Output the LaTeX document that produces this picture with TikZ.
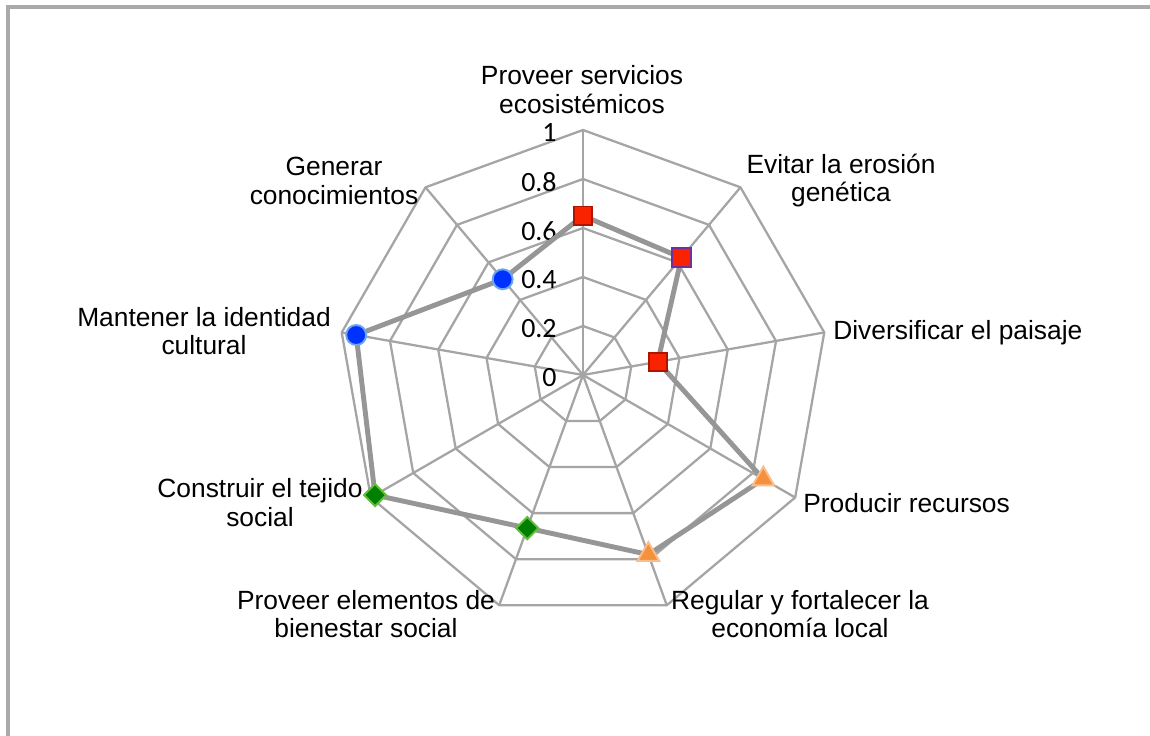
\documentclass[tikz,border=0pt]{standalone}
\usepackage{fontspec}
\setmainfont{Liberation Sans}
\newfontfamily\tickfont{Carlito}
\usepackage{xcolor}
\usepackage{tikz}
\usetikzlibrary{shapes.geometric}
\definecolor{gridgray}{RGB}{165,165,165}
\definecolor{framegray}{RGB}{170,170,170}
\definecolor{datagray}{RGB}{150,150,150}
\definecolor{markred}{RGB}{250,35,0}
\definecolor{darkred}{RGB}{175,20,0}
\definecolor{markpurple}{RGB}{112,48,160}
\definecolor{markorange}{RGB}{245,145,60}
\definecolor{lightorange}{RGB}{250,190,140}
\definecolor{markgreen}{RGB}{0,128,0}
\definecolor{lightgreen}{RGB}{100,190,60}
\definecolor{markblue}{RGB}{0,50,255}
\definecolor{lightblue}{RGB}{110,165,240}
\tikzset{
    grid_line/.style = {draw=gridgray, line width=1.3pt, line join=round},
    data_line/.style = {draw=datagray, line width=2.8pt, line join=round},
    frame_line/.style = {draw=framegray, line width=2pt},
    tick_lbl/.style = {anchor=east, inner sep=0pt, font=\tickfont\fontsize{15.9}{18}\selectfont},
    axis_lbl/.style = {align=center, inner sep=0pt, font=\fontsize{15}{16.2}\selectfont}
}
\tikzset{
    mark_base/.style = {inner sep=0pt, line width=1.1pt},
    red_mark/.style = {mark_base, rectangle, draw=darkred, fill=markred, minimum size=0.37cm},
    orange_mark/.style = {mark_base, regular polygon, regular polygon sides=3, draw=lightorange, fill=markorange, minimum size=0.5cm},
    green_mark/.style = {mark_base, diamond, draw=lightgreen, fill=markgreen, minimum width=0.46cm, minimum height=0.46cm},
    blue_mark/.style = {mark_base, circle, draw=lightblue, fill=markblue, minimum size=0.4cm}
}
\begin{document}
\begin{tikzpicture}[x=0.02cm, y=0.02cm]
    \useasboundingbox (-583,-361) rectangle (567,375);
    % frame
    \draw[frame_line] (-575,-361) -- (-575,368) -- (567,368);
    % web
    \coordinate (c) at (0,0);
    \foreach \r in {1,...,5} {
        \draw[grid_line] (90:{49*\r}) \foreach \k in {1,...,8} { -- ({90-40*\k}:{49*\r}) } -- cycle;
    }
    \foreach \k in {0,...,8} {
        \coordinate (v\k) at ({90-40*\k}:245);
        \draw[grid_line] (c) -- (v\k);
    }
    % scale
    \foreach \t [count=\i from 0] in {0,0.2,0.4,0.6,0.8,1}
        \node[tick_lbl] (t\i) at (-26,{49*\i-3}) {\t};
    % data
    \foreach \v [count=\k from 0] in {0.65,0.625,0.31,0.85,0.78,0.665,0.98,0.94,0.51}
        \coordinate (d\k) at ({90-40*\k}:{245*\v});
    \draw[data_line] (d0) \foreach \k in {1,...,8} { -- (d\k) } -- cycle;
    \node[red_mark] (m0) at (d0) {};
    \node[red_mark, draw=markpurple] (m1) at (d1) {};
    \node[red_mark] (m2) at (d2) {};
    \node[orange_mark] (m3) at (d3) {};
    \node[orange_mark] (m4) at (d4) {};
    \node[green_mark] (m5) at (d5) {};
    \node[green_mark] (m6) at (d6) {};
    \node[blue_mark] (m7) at (d7) {};
    \node[blue_mark] (m8) at (d8) {};
    % axis labels
    \node[axis_lbl] (servicios) at (-1,285.5) {Proveer servicios\\ecosistémicos};
    \node[axis_lbl] (erosion) at (258,194.5) {Evitar la erosión\\genética};
    \node[axis_lbl, anchor=west] (paisaje) at (250,42) {Diversificar el paisaje};
    \node[axis_lbl, anchor=west] (recursos) at (220,-128) {Producir recursos};
    \node[axis_lbl] (economia) at (217,-239) {Regular y fortalecer la\\economía local};
    \node[axis_lbl] (bienestar) at (-217,-239) {Proveer elementos de\\bienestar social};
    \node[axis_lbl] (tejido) at (-323,-127.5) {Construir el tejido\\social};
    \node[axis_lbl] (identidad) at (-379,44) {Mantener la identidad\\cultural};
    \node[axis_lbl] (conocimientos) at (-249,194) {Generar\\conocimientos};
\end{tikzpicture}
\end{document}
